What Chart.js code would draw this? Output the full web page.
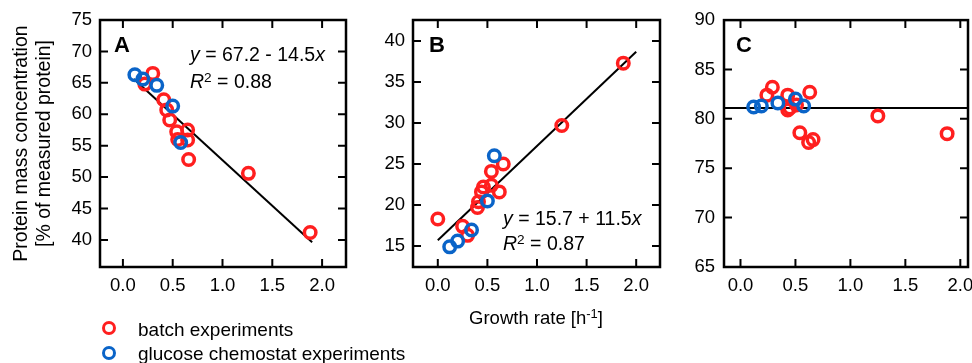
<!DOCTYPE html>
<html lang="en">
<head>
<meta charset="UTF-8">
<title>Protein mass concentration vs growth rate</title>
<script src="https://cdn.jsdelivr.net/npm/chart.js@4.4.1/dist/chart.umd.min.js"></script>
<style>
  body { margin: 0; width: 972px; height: 363px; overflow: hidden; background: #fff; position: relative;
         font-family: 'Liberation Sans', Arial, sans-serif; color: #000; }
  canvas { position: absolute; left: 0; top: 0; }
  .txt { position: absolute; white-space: nowrap; line-height: 1; }
  .letter { font-weight: bold; font-size: 22px; }
  .eq { font-size: 19.5px; }
  .txt sup { font-size: 0.7em; vertical-align: 0.45em; line-height: 0; }
  .legend { font-size: 19px; }
  .mark { position: absolute; width: 8px; height: 8px; border-radius: 50%; border: 3.5px solid; }
  .axis-title { font-size: 18.5px; text-align: center; width: 240px; }
</style>
</head>
<body>
  <canvas id="panelA" width="1000" height="363"></canvas>
  <canvas id="panelB" width="1000" height="363"></canvas>
  <canvas id="panelC" width="1000" height="363"></canvas>

  <div class="txt letter" style="left:114px; top:34px;">A</div>
  <div class="txt letter" style="left:429px; top:34px;">B</div>
  <div class="txt letter" style="left:736px; top:34px;">C</div>

  <div class="txt eq" style="left:190px; top:45px;"><i>y</i> = 67.2 - 14.5<i>x</i></div>
  <div class="txt eq" style="left:190px; top:72px;"><i>R</i><sup>2</sup> = 0.88</div>
  <div class="txt eq" style="left:503px; top:209px;"><i>y</i> = 15.7 + 11.5<i>x</i></div>
  <div class="txt eq" style="left:503px; top:234px;"><i>R</i><sup>2</sup> = 0.87</div>

  <div class="txt axis-title" style="left:416px; top:309px;">Growth rate [h<sup>-1</sup>]</div>

  <div class="mark" style="left:102px; top:321px; border-color:#ff1f1f;"></div>
  <div class="txt legend" style="left:138px; top:320px;">batch experiments</div>
  <div class="mark" style="left:102px; top:346px; border-color:#0a64c8;"></div>
  <div class="txt legend" style="left:138px; top:344px;">glucose chemostat experiments</div>

<script>
  // shared growth-rate axis ticks [h^-1]
  const rateTicks = [0, 0.5, 1, 1.5, 2];

  // A: protein mass concentration [% of measured protein]
  const batchRateA = [0.30, 0.22, 0.41, 0.44, 0.47, 0.54, 0.55, 0.65, 0.65, 0.66, 1.26, 1.88];
  const batchProtA = [66.5, 64.8, 62.3, 60.7, 59.1, 57.2, 56.0, 57.5, 55.9, 52.8, 50.6, 41.2];
  const chemoRateA = [0.12, 0.20, 0.34, 0.50, 0.58];
  const chemoProtA = [66.3, 65.6, 64.6, 61.3, 55.5];
  const fitRateA = [0.11, 1.90];
  const fitProtA = [65.6, 39.65];
  const protTicksA = [40, 45, 50, 55, 60, 65, 70, 75];

  // B
  const batchRateB = [0.00, 0.25, 0.30, 0.40, 0.41, 0.44, 0.46, 0.54, 0.54, 0.62, 0.66, 1.25, 1.87];
  const batchProtB = [18.3, 17.4, 16.3, 19.7, 20.4, 21.6, 22.2, 22.4, 24.1, 21.6, 25.0, 29.7, 37.3];
  const chemoRateB = [0.12, 0.20, 0.34, 0.50, 0.57];
  const chemoProtB = [14.9, 15.6, 16.95, 20.5, 26.0];
  const fitRateB = [0.00, 2.00];
  const fitProtB = [15.7, 38.7];
  const protTicksB = [15, 20, 25, 30, 35, 40];

  // C
  const batchRateC = [0.24, 0.29, 0.43, 0.45, 0.43, 0.51, 0.54, 0.62, 0.63, 0.66, 1.25, 1.88];
  const batchProtC = [82.4, 83.2, 82.4, 81.1, 80.9, 81.4, 78.6, 77.6, 82.7, 77.9, 80.3, 78.5];
  const chemoRateC = [0.12, 0.19, 0.34, 0.50, 0.575];
  const chemoProtC = [81.2, 81.3, 81.6, 82.0, 81.3];
  const fitRateC = [-0.15, 2.07];
  const fitProtC = [81.1, 81.1];
  const protTicksC = [65, 70, 75, 80, 85, 90];

  const RED = '#ff1f1f';
  const BLUE = '#0a64c8';
  const W = 1000, H = 363;

  Chart.defaults.font.family = "'Liberation Sans', Arial, sans-serif";
  Chart.defaults.font.size = 18.5;
  Chart.defaults.color = '#000';

  const toXY = (xs, ys) => xs.map((x, i) => ({ x, y: ys[i] }));

  // box around the plot area with inward ticks on all four sides
  const frame = {
    id: 'frame',
    afterDraw(chart) {
      const { ctx, chartArea: a, scales: { x, y } } = chart;
      const len = 8;
      ctx.save();
      ctx.strokeStyle = '#000';
      ctx.lineWidth = 2;
      ctx.beginPath();
      x.ticks.forEach(t => {
        const px = x.getPixelForValue(t.value);
        ctx.moveTo(px, a.bottom); ctx.lineTo(px, a.bottom - len);
        ctx.moveTo(px, a.top); ctx.lineTo(px, a.top + len);
      });
      y.ticks.forEach(t => {
        const py = y.getPixelForValue(t.value);
        ctx.moveTo(a.left, py); ctx.lineTo(a.left + len, py);
        ctx.moveTo(a.right, py); ctx.lineTo(a.right - len, py);
      });
      ctx.stroke();
      ctx.lineWidth = 2.5;
      ctx.strokeRect(a.left, a.top, a.right - a.left, a.bottom - a.top);
      ctx.restore();
    }
  };

  const circles = (data, color, order) => ({
    data, order,
    borderColor: color,
    backgroundColor: 'rgba(0,0,0,0)',
    borderWidth: 3.5,
    pointRadius: 5.75,
    pointHoverRadius: 5.75
  });

  function panel(id, p) {
    return new Chart(document.getElementById(id), {
      type: 'scatter',
      data: {
        datasets: [
          { type: 'line', data: p.fit, order: 3, borderColor: '#000', borderWidth: 2,
            pointRadius: 0, fill: false, tension: 0 },
          circles(p.batch, RED, 2),
          circles(p.chemo, BLUE, 1)
        ]
      },
      options: {
        responsive: false,
        animation: false,
        devicePixelRatio: 1,
        layout: { padding: { left: 0, top: p.top, right: W - p.right, bottom: 0 } },
        plugins: { legend: { display: false }, tooltip: { enabled: false } },
        scales: {
          x: {
            type: 'linear', min: p.xMin, max: p.xMax,
            grid: { display: false, drawTicks: false },
            border: { display: false },
            afterBuildTicks: s => { s.ticks = rateTicks.map(v => ({ value: v })); },
            afterFit: s => { s.height = H - p.bottom; },
            ticks: { padding: 8, maxRotation: 0, callback: v => v.toFixed(1) }
          },
          y: {
            type: 'linear', min: p.yMin, max: p.yMax,
            grid: { display: false, drawTicks: false },
            border: { display: false },
            afterBuildTicks: s => { s.ticks = p.yTicks.map(v => ({ value: v })); },
            afterFit: s => { s.width = p.left; },
            ticks: { padding: p.labelGap },
            title: p.yTitle ? {
              display: true,
              text: p.yTitle,
              font: { size: 19.5, lineHeight: 1.18 },
              padding: { top: 10, bottom: 0 }
            } : { display: false }
          }
        }
      },
      plugins: [frame]
    });
  }

  panel('panelA', {
    left: 100, right: 346, top: 20, bottom: 267,
    xMin: -0.23, xMax: 2.24, yMin: 35.7, yMax: 75, yTicks: protTicksA, labelGap: 8,
    fit: toXY(fitRateA, fitProtA),
    batch: toXY(batchRateA, batchProtA),
    chemo: toXY(chemoRateA, chemoProtA),
    yTitle: ['Protein mass concentration', '[% of measured protein]']
  });

  panel('panelB', {
    left: 413, right: 660, top: 20, bottom: 267,
    xMin: -0.25, xMax: 2.24, yMin: 12.44, yMax: 42.56, yTicks: protTicksB, labelGap: 8,
    fit: toXY(fitRateB, fitProtB),
    batch: toXY(batchRateB, batchProtB),
    chemo: toXY(chemoRateB, chemoProtB)
  });

  panel('panelC', {
    left: 724, right: 968, top: 20, bottom: 267,
    xMin: -0.15, xMax: 2.07, yMin: 65, yMax: 90, yTicks: protTicksC, labelGap: 9,
    fit: toXY(fitRateC, fitProtC),
    batch: toXY(batchRateC, batchProtC),
    chemo: toXY(chemoRateC, chemoProtC)
  });
</script>
</body>
</html>
